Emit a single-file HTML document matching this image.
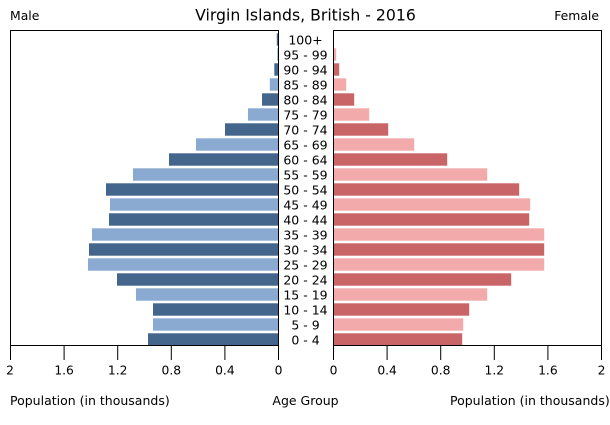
<!DOCTYPE html>
<html>
<head>
<meta charset="utf-8">
<style>
html,body{margin:0;padding:0;background:#fff;}
svg{display:block;}
text{font-family:"DejaVu Sans","Liberation Sans",sans-serif;fill:#000;}
</style>
</head>
<body>
<svg width="610" height="425" viewBox="0 0 610 425" xmlns="http://www.w3.org/2000/svg">
<rect x="0" y="0" width="610" height="425" fill="#fff"/>
<text x="305.5" y="20.3" font-size="15.7" text-anchor="middle">Virgin Islands, British - 2016</text>
<text x="10" y="20" font-size="12.4">Male</text>
<text x="599" y="20" font-size="12.4" text-anchor="end">Female</text>

<g id="male">
<rect x="276.8" y="33.3" width="1.7" height="12.4" fill="#44658c"/>
<rect x="277.3" y="48.3" width="1.2" height="12.4" fill="#8aaad2"/>
<rect x="274.3" y="63.3" width="4.2" height="12.4" fill="#44658c"/>
<rect x="269.8" y="78.3" width="8.7" height="12.4" fill="#8aaad2"/>
<rect x="262" y="93.3" width="16.5" height="12.4" fill="#44658c"/>
<rect x="248" y="108.3" width="30.5" height="12.4" fill="#8aaad2"/>
<rect x="225" y="123.3" width="53.5" height="12.4" fill="#44658c"/>
<rect x="196" y="138.3" width="82.5" height="12.4" fill="#8aaad2"/>
<rect x="169" y="153.3" width="109.5" height="12.4" fill="#44658c"/>
<rect x="133" y="168.3" width="145.5" height="12.4" fill="#8aaad2"/>
<rect x="106" y="183.3" width="172.5" height="12.4" fill="#44658c"/>
<rect x="110" y="198.3" width="168.5" height="12.4" fill="#8aaad2"/>
<rect x="109" y="213.3" width="169.5" height="12.4" fill="#44658c"/>
<rect x="92" y="228.3" width="186.5" height="12.4" fill="#8aaad2"/>
<rect x="89" y="243.3" width="189.5" height="12.4" fill="#44658c"/>
<rect x="88" y="258.3" width="190.5" height="12.4" fill="#8aaad2"/>
<rect x="117" y="273.3" width="161.5" height="12.4" fill="#44658c"/>
<rect x="136" y="288.3" width="142.5" height="12.4" fill="#8aaad2"/>
<rect x="153" y="303.3" width="125.5" height="12.4" fill="#44658c"/>
<rect x="153" y="318.3" width="125.5" height="12.4" fill="#8aaad2"/>
<rect x="148" y="333.3" width="130.5" height="12.4" fill="#44658c"/>
</g>

<g id="female">
<rect x="333.5" y="33.3" width="0.5" height="12.4" fill="#c96566"/>
<rect x="333.5" y="48.3" width="2.7" height="12.4" fill="#f2aaaa"/>
<rect x="333.5" y="63.3" width="5.7" height="12.4" fill="#c96566"/>
<rect x="333.5" y="78.3" width="12.7" height="12.4" fill="#f2aaaa"/>
<rect x="333.5" y="93.3" width="20.7" height="12.4" fill="#c96566"/>
<rect x="333.5" y="108.3" width="35.7" height="12.4" fill="#f2aaaa"/>
<rect x="333.5" y="123.3" width="54.7" height="12.4" fill="#c96566"/>
<rect x="333.5" y="138.3" width="80.7" height="12.4" fill="#f2aaaa"/>
<rect x="333.5" y="153.3" width="113.7" height="12.4" fill="#c96566"/>
<rect x="333.5" y="168.3" width="153.7" height="12.4" fill="#f2aaaa"/>
<rect x="333.5" y="183.3" width="185.7" height="12.4" fill="#c96566"/>
<rect x="333.5" y="198.3" width="196.7" height="12.4" fill="#f2aaaa"/>
<rect x="333.5" y="213.3" width="195.7" height="12.4" fill="#c96566"/>
<rect x="333.5" y="228.3" width="210.7" height="12.4" fill="#f2aaaa"/>
<rect x="333.5" y="243.3" width="210.7" height="12.4" fill="#c96566"/>
<rect x="333.5" y="258.3" width="210.7" height="12.4" fill="#f2aaaa"/>
<rect x="333.5" y="273.3" width="177.7" height="12.4" fill="#c96566"/>
<rect x="333.5" y="288.3" width="153.7" height="12.4" fill="#f2aaaa"/>
<rect x="333.5" y="303.3" width="135.7" height="12.4" fill="#c96566"/>
<rect x="333.5" y="318.3" width="129.7" height="12.4" fill="#f2aaaa"/>
<rect x="333.5" y="333.3" width="128.7" height="12.4" fill="#c96566"/>
</g>

<g fill="none" stroke="#000" stroke-width="1">
<rect x="10.5" y="30.5" width="268" height="315"/>
<rect x="333.5" y="30.5" width="268" height="315"/>
<path d="M10.5 345V360M64.1 345V360M117.7 345V360M171.3 345V360M224.9 345V360M278.5 345V360"/>
<path d="M333.5 345V360M387.1 345V360M440.7 345V360M494.3 345V360M547.9 345V360M601.5 345V360"/>
</g>

<g font-size="12.5" text-anchor="middle">
<text x="305.5" y="44.3">100+</text>
<text x="305.5" y="59.3">95 - 99</text>
<text x="305.5" y="74.3">90 - 94</text>
<text x="305.5" y="89.3">85 - 89</text>
<text x="305.5" y="104.3">80 - 84</text>
<text x="305.5" y="119.3">75 - 79</text>
<text x="305.5" y="134.3">70 - 74</text>
<text x="305.5" y="149.3">65 - 69</text>
<text x="305.5" y="164.3">60 - 64</text>
<text x="305.5" y="179.3">55 - 59</text>
<text x="305.5" y="194.3">50 - 54</text>
<text x="305.5" y="209.3">45 - 49</text>
<text x="305.5" y="224.3">40 - 44</text>
<text x="305.5" y="239.3">35 - 39</text>
<text x="305.5" y="254.3">30 - 34</text>
<text x="305.5" y="269.3">25 - 29</text>
<text x="305.5" y="284.3">20 - 24</text>
<text x="305.5" y="299.3">15 - 19</text>
<text x="305.5" y="314.3">10 - 14</text>
<text x="305.5" y="329.3">5 - 9</text>
<text x="305.5" y="344.3">0 - 4</text>
</g>

<g font-size="12.3" text-anchor="middle">
<text x="10" y="374.5">2</text>
<text x="64.1" y="374.5">1.6</text>
<text x="117.7" y="374.5">1.2</text>
<text x="171.3" y="374.5">0.8</text>
<text x="224.9" y="374.5">0.4</text>
<text x="278.5" y="374.5">0</text>
<text x="333.5" y="374.5">0</text>
<text x="387.1" y="374.5">0.4</text>
<text x="440.7" y="374.5">0.8</text>
<text x="494.3" y="374.5">1.2</text>
<text x="547.9" y="374.5">1.6</text>
<text x="601.5" y="374.5">2</text>
</g>

<g font-size="12.5">
<text x="10" y="405">Population (in thousands)</text>
<text x="305.5" y="405" text-anchor="middle">Age Group</text>
<text x="450" y="405">Population (in thousands)</text>
</g>
</svg>
</body>
</html>
